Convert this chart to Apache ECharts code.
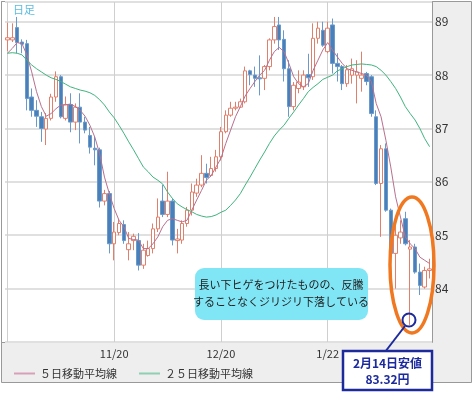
<!DOCTYPE html>
<html><head><meta charset="utf-8">
<script src="https://cdn.jsdelivr.net/npm/echarts@6/dist/echarts.min.js"></script>
<style>html,body{margin:0;padding:0;background:#fff}#c{width:475px;height:395px}</style>
</head><body><div id="c"></div>
<script>
const categories = ['10/19','10/22','10/23','10/24','10/25','10/26','10/29','10/30','10/31','11/1','11/2','11/5','11/6','11/7','11/8','11/9','11/12','11/13','11/14','11/15','11/16','11/19',
'11/20','11/21','11/22','11/23','11/26','11/27','11/28','11/29','11/30','12/3','12/4','12/5','12/6','12/7','12/10','12/11','12/12','12/13','12/14','12/17','12/18','12/19',
'12/20','12/21','12/24','12/25','12/26','12/27','12/28','12/31','1/2','1/3','1/4','1/7','1/8','1/9','1/10','1/11','1/14','1/15','1/16','1/17','1/18','1/21',
'1/22','1/23','1/24','1/25','1/28','1/29','1/30','1/31','2/1','2/4','2/5','2/6','2/7','2/8','2/11','2/12','2/13','2/14','2/15','2/18','2/19','2/20'];
const openV = [88.66,88.66,88.89,88.62,88.59,87.59,87.34,87.22,86.99,87.19,87.59,87.97,87.19,87.45,87.12,87.40,87.12,86.87,86.63,86.60,85.64,85.78,
84.84,85.05,85.20,84.73,84.90,84.90,84.44,84.62,84.75,85.12,85.64,85.39,85.64,84.90,84.91,85.22,85.47,85.79,85.94,86.16,86.12,86.25,
86.47,86.94,87.25,87.38,87.40,87.50,88.08,88.00,87.95,87.94,88.16,88.66,88.94,88.67,88.12,87.41,87.75,87.78,88.01,87.97,88.69,88.84,
88.44,88.94,88.22,88.16,87.84,88.00,88.00,87.94,88.03,87.97,87.22,85.97,86.62,85.47,84.66,84.95,85.31,84.74,84.78,84.31,84.03,84.34];
const closeV = [88.70,88.70,88.61,88.58,87.56,87.34,87.23,87.00,87.19,87.59,87.97,87.22,87.45,87.12,87.40,87.12,86.97,86.65,86.60,85.64,85.78,84.84,
85.06,85.22,84.90,84.84,84.98,84.44,84.72,84.75,85.12,85.34,85.39,85.64,84.91,84.93,85.22,85.47,85.81,85.94,86.16,86.08,86.25,86.47,
86.94,87.25,87.38,87.40,87.50,88.08,88.01,87.94,87.93,88.16,88.66,88.91,88.66,88.12,87.41,87.81,87.87,88.00,87.95,88.69,88.88,88.56,
88.88,88.22,88.16,87.84,88.10,88.12,88.06,88.00,87.88,87.28,85.97,86.62,85.47,84.66,85.00,85.06,84.84,84.78,84.31,84.06,84.34,84.37];
const lowV = [88.45,88.62,88.41,88.41,87.34,87.22,87.03,86.75,86.69,87.15,87.50,87.19,87.15,86.93,86.97,86.72,86.91,86.53,86.31,85.52,85.56,84.66,
84.53,85.00,84.84,84.53,84.72,84.34,84.37,84.60,84.66,85.06,85.34,85.34,84.81,84.66,84.84,85.16,85.37,85.72,85.90,85.97,86.09,86.19,
86.40,86.91,87.22,87.34,87.39,87.47,87.81,87.78,87.62,87.72,88.09,88.59,88.47,87.88,87.22,87.34,87.66,87.72,87.78,87.91,88.59,88.53,
88.41,88.03,87.88,87.72,87.78,87.84,87.47,87.69,87.81,87.22,85.94,84.97,85.44,84.62,84.00,84.84,84.81,83.32,84.28,83.88,84.00,84.19];
const highV = [88.98,88.97,89.09,88.67,88.66,87.75,87.53,87.31,87.29,87.65,88.07,88.00,87.60,87.66,87.47,87.66,87.22,87.03,86.84,86.64,85.85,85.83,
85.25,85.30,85.28,85.06,85.03,85.04,84.84,84.90,85.22,85.69,85.94,86.19,85.69,85.12,85.28,85.53,85.97,86.06,86.50,86.34,86.47,86.60,
87.03,87.34,87.50,87.50,87.56,88.16,88.10,88.16,88.37,88.19,88.69,89.09,89.09,88.84,88.28,87.87,88.09,88.09,88.40,88.97,89.00,89.00,
89.00,89.06,88.41,88.19,88.19,88.31,88.28,88.44,88.06,88.00,87.34,86.69,86.72,85.50,85.22,85.28,85.44,84.91,84.84,84.47,84.41,84.56];
const ma5 = [88.41,88.50,88.61,88.59,88.38,88.06,87.69,87.41,87.23,87.28,87.37,87.44,87.44,87.46,87.41,87.34,87.23,87.06,86.84,86.53,86.09,85.78,
85.50,85.28,85.16,84.94,84.92,84.91,84.75,84.75,84.84,84.97,85.16,85.28,85.31,85.28,85.25,85.28,85.47,85.66,85.84,86.03,86.12,86.28,
86.44,86.72,86.97,87.22,87.41,87.61,87.75,87.88,88.00,88.09,88.28,88.44,88.52,88.44,88.22,87.97,87.84,87.78,87.84,88.09,88.28,88.47,
88.61,88.47,88.34,88.22,88.12,88.09,88.06,88.03,88.00,87.88,87.47,87.22,86.78,86.28,85.72,85.34,84.97,84.84,84.75,84.59,84.53,84.47];
const ma25 = [88.41,88.42,88.41,88.38,88.28,88.19,88.12,88.06,88.00,87.95,87.92,87.88,87.83,87.78,87.75,87.72,87.70,87.67,87.62,87.54,87.44,87.31,
87.20,87.06,86.91,86.75,86.60,86.44,86.28,86.19,86.09,86.03,85.96,85.81,85.69,85.59,85.53,85.48,85.44,85.39,85.36,85.34,85.35,85.38,
85.43,85.47,85.56,85.66,85.78,85.94,86.09,86.25,86.41,86.56,86.72,86.86,86.97,87.06,87.19,87.31,87.44,87.56,87.69,87.77,87.84,87.92,
87.96,88.00,88.08,88.12,88.16,88.19,88.20,88.21,88.20,88.19,88.16,88.09,88.00,87.88,87.75,87.59,87.41,87.28,87.16,87.00,86.81,86.66];
const xTickLabels = ['11/20','12/20','1/22'];
const seriesNames = ['５日移動平均線','２５日移動平均線'];

const candleData = categories.map((c, i) => [openV[i], closeV[i], lowV[i], highV[i]]);
const FONT = '"Noto Sans CJK JP", "Noto Sans", sans-serif';
const chart = echarts.init(document.getElementById('c'), null, {renderer: 'canvas'});
chart.setOption({
  animation: false,
  backgroundColor: '#fff',
  grid: {left: 5, right: 43, top: 2, bottom: 53, show: false},
  xAxis: {
    type: 'category', data: categories, boundaryGap: true,
    axisLine: {show: false}, axisTick: {show: false},
    axisLabel: {interval: (i, v) => xTickLabels.includes(v), color: '#333', fontSize: 11, margin: 6, fontFamily: FONT},
    splitLine: {show: true, interval: 21, alignWithLabel: true, lineStyle: {color: '#cfcfcf', width: 1}}
  },
  yAxis: {
    type: 'value', position: 'right', min: 83, max: 89.37, interval: 1, scale: true,
    axisLine: {show: false}, axisTick: {show: false},
    axisLabel: {color: '#333', fontSize: 12, margin: 3, showMinLabel: false, showMaxLabel: false, fontFamily: FONT},
    splitLine: {show: true, lineStyle: {color: '#e0e0e0', width: 2}}
  },
  legend: {
    left: 9, top: 363, icon: 'rect', itemWidth: 21, itemHeight: 2, itemGap: 22,
    textStyle: {color: '#333', fontSize: 11, fontFamily: FONT},
    data: seriesNames
  },
  graphic: [
    {type: 'rect', z: -10, silent: true, shape: {x: 1.5, y: 1.5, width: 470, height: 381}, style: {fill: '#eeeeee', stroke: '#999', lineWidth: 1}},
    {type: 'rect', z: -9, silent: true, shape: {x: 1.5, y: 1.5, width: 431, height: 341}, style: {fill: '#ffffff', stroke: '#999', lineWidth: 1}},
    {type: 'text', z: 100, left: 13, top: 4, style: {text: '日足', fill: '#5bbde0', font: '11px ' + FONT}},
    {type: 'rect', z: 100, shape: {x: 195, y: 268, width: 173, height: 52, r: 9}, style: {fill: '#80e6f6'}},
    {type: 'text', z: 101, style: {x: 281, y: 285, text: '長い下ヒゲをつけたものの、反騰', fill: '#222', font: '11px ' + FONT, textAlign: 'center', textVerticalAlign: 'middle'}},
    {type: 'text', z: 101, style: {x: 281, y: 302, text: 'することなくジリジリ下落している', fill: '#222', font: '11px ' + FONT, textAlign: 'center', textVerticalAlign: 'middle'}},
    {type: 'ellipse', z: 100, shape: {cx: 412, cy: 265, rx: 22, ry: 68}, style: {fill: 'none', stroke: '#f07820', lineWidth: 3.5}},
    {type: 'circle', z: 100, shape: {cx: 409, cy: 320, r: 6.5}, style: {fill: 'none', stroke: '#1c2a9c', lineWidth: 2}},
    {type: 'line', z: 100, shape: {x1: 405, y1: 326, x2: 385, y2: 352}, style: {stroke: '#1c2a9c', lineWidth: 2}},
    {type: 'rect', z: 100, shape: {x: 343, y: 351, width: 89, height: 39}, style: {fill: '#fff', stroke: '#1c2a9c', lineWidth: 2.5}},
    {type: 'text', z: 101, style: {x: 387.5, y: 363, text: '2月14日安値', fill: '#1c2a9c', font: 'bold 12px ' + FONT, textAlign: 'center', textVerticalAlign: 'middle'}},
    {type: 'text', z: 101, style: {x: 387.5, y: 379, text: '83.32円', fill: '#1c2a9c', font: 'bold 12px ' + FONT, textAlign: 'center', textVerticalAlign: 'middle'}}
  ],
  series: [
    {type: 'candlestick', name: 'candle', data: candleData, barWidth: 4,
     itemStyle: {color: '#ffffff', color0: '#4a80ba', borderColor: '#e0806c', borderColor0: '#6a9acb', borderWidth: 1}},
    {type: 'line', name: seriesNames[0], data: ma5, symbol: 'none', lineStyle: {color: '#b8708e', width: 1}, itemStyle: {color: '#d8a0b8'}, z: 3},
    {type: 'line', name: seriesNames[1], data: ma25, symbol: 'none', lineStyle: {color: '#3fb47e', width: 1}, itemStyle: {color: '#8fd0b0'}, z: 3}
  ]
});
</script></body></html>
